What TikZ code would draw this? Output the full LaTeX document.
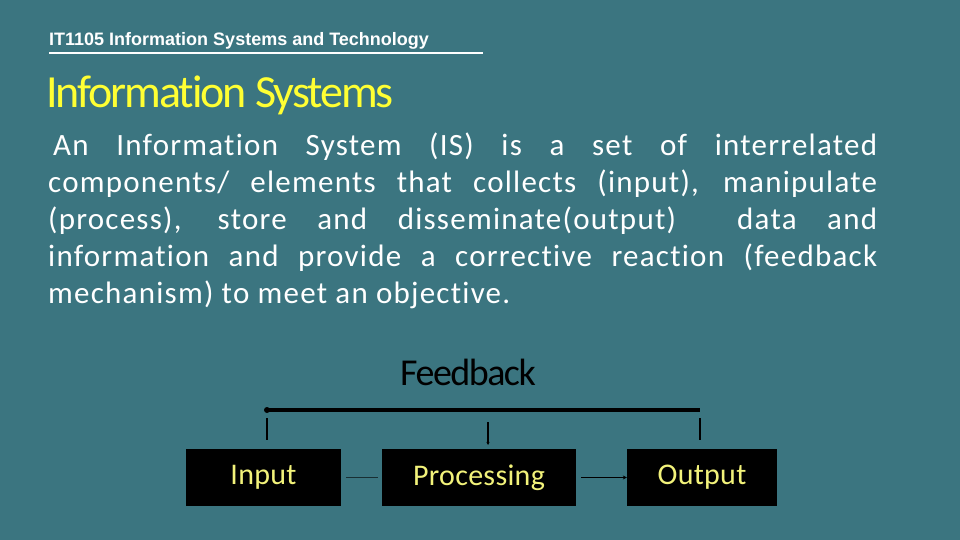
\documentclass[tikz,border=0pt]{standalone}
\usepackage{fontspec}
\setmainfont{Carlito}[Ligatures=NoCommon]
\newfontfamily\hdr{Liberation Sans}
\definecolor{bg}{HTML}{3B7580}
\definecolor{ylw}{HTML}{FFFF33}
\definecolor{lyl}{HTML}{F2F27A}
\usetikzlibrary{arrows.meta}
\begin{document}
\begin{tikzpicture}[x=1pt,y=-1pt,
  blk/.style={fill=black,draw=none,inner sep=0pt,font=\fontsize{30}{32}\selectfont\addfontfeature{LetterSpace=1},text=lyl},
  fb/.style={draw=black,line width=1.5pt}]
\fill[bg] (0,0) rectangle (960,540);
\useasboundingbox (0,0) rectangle (960,540);
\node[anchor=base west,inner sep=0pt,text=white,font=\hdr\bfseries\fontsize{18}{20}\selectfont] (hd) at (49,46) {IT1105 Information Systems and Technology};
\draw[white,line width=2.5pt] (49,53) coordinate (u1) -- (483,53) coordinate (u2);
\node[anchor=base west,inner sep=0pt,text=ylw,font=\fontsize{46}{48}\selectfont] (tt) at (46,108) {\addfontfeature{LetterSpace=-4.5}Information Systems};
\node[anchor=north west,inner sep=0pt,text=white,font=\fontsize{31}{37}\selectfont] (body) at (48,133) {\parbox{829pt}{\hyphenpenalty=10000\addfontfeature{LetterSpace=4}\hspace{5pt}An Information System (IS) is a set of interrelated\linebreak components/ elements that collects (input), manipulate\linebreak (process), store and disseminate(output)\ \ data and\linebreak information and provide a corrective reaction (feedback\linebreak mechanism) to meet an objective.}};
\node[text=black,font=\fontsize{38}{40}\selectfont,inner sep=0pt] (fbk) at (468,372) {\addfontfeature{LetterSpace=-4}Feedback};
\node[blk,minimum width=155pt,minimum height=57pt] (in) at (263.5,477.5) {Input};
\node[blk,minimum width=194pt,minimum height=57pt] (pr) at (479,477.5) {Processing};
\node[blk,minimum width=150pt,minimum height=57pt] (out) at (702,477.5) {Output};
\coordinate (a) at (267,410); \coordinate (b) at (700,410);
\draw[black,line width=3.5pt] (a) -- (b);
\fill[black] (a) circle (3pt);
\coordinate (v1a) at (267,418); \coordinate (v1b) at (267,440);
\coordinate (v2a) at (488,422); \coordinate (v2b) at (488,445);
\coordinate (v3a) at (700,418); \coordinate (v3b) at (700,440);
\draw[fb] (v1a) -- (v1b);
\draw[fb,-{Stealth[length=3pt,width=3pt]}] (v2a) -- (v2b);
\draw[fb] (v3a) -- (v3b);
\draw[line width=1pt,draw=black!60!bg] ([xshift=5pt]in.east) -- ([xshift=-4pt]pr.west);
\draw[line width=1pt,-{Stealth[length=4pt,width=4pt]}] ([xshift=5pt]pr.east) -- (out.west);
\end{tikzpicture}
\end{document}
